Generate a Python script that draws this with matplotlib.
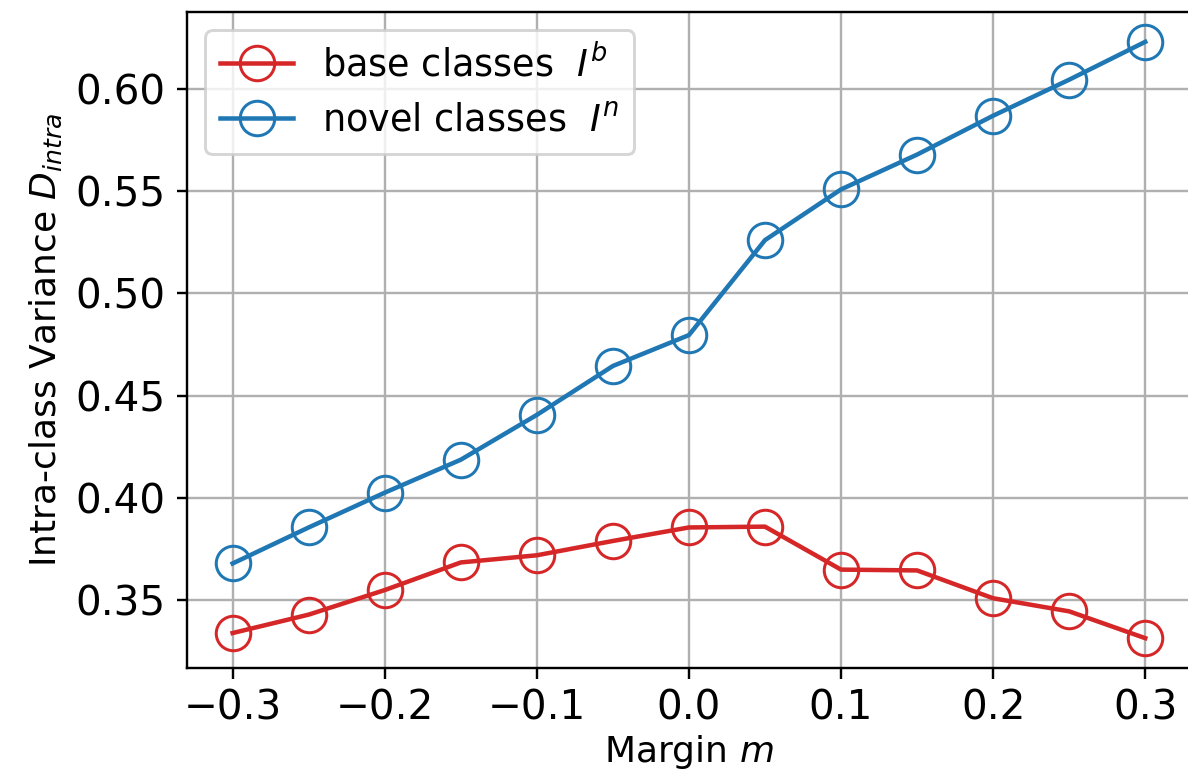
import numpy as np
import matplotlib
matplotlib.use("Agg")
import matplotlib.pyplot as plt

margins = [-0.3, -0.25, -0.2, -0.15, -0.1, -0.05, 0.0, 0.05, 0.1, 0.15, 0.2, 0.25, 0.3]
base_var = [0.334, 0.343, 0.355, 0.3685, 0.372, 0.379, 0.3856, 0.386, 0.365, 0.3646, 0.351, 0.3446, 0.3315]
novel_var = [0.368, 0.3856, 0.4026, 0.4187, 0.4406, 0.4645, 0.4796, 0.526, 0.5508, 0.5678, 0.5868, 0.6044, 0.6229]

plt.rcParams["font.size"] = 13.5

fig = plt.figure(figsize=(1188 / 216, 776 / 216), dpi=216)
ax = fig.add_axes([0.1574, 0.1392, 0.845, 0.8453])

ax.plot(margins, base_var, color="tab:red", marker="o", markersize=11.5,
        markerfacecolor="none", label="base classes  $I^b$")
ax.plot(margins, novel_var, color="tab:blue", marker="o", markersize=11.5,
        markerfacecolor="none", label="novel classes  $I^n$")

ax.set_xlabel("Margin $m$", fontsize=12, labelpad=1.5)
ax.set_ylabel("Intra-class Variance $D_{intra}$", fontsize=12)
ax.set_xticks([-0.3, -0.2, -0.1, 0.0, 0.1, 0.2, 0.3])
ax.set_yticks([0.35, 0.40, 0.45, 0.50, 0.55, 0.60])
ax.grid(True)
ax.legend(loc="upper left", fontsize=12.2)

fig.savefig("out.png", dpi=216)
